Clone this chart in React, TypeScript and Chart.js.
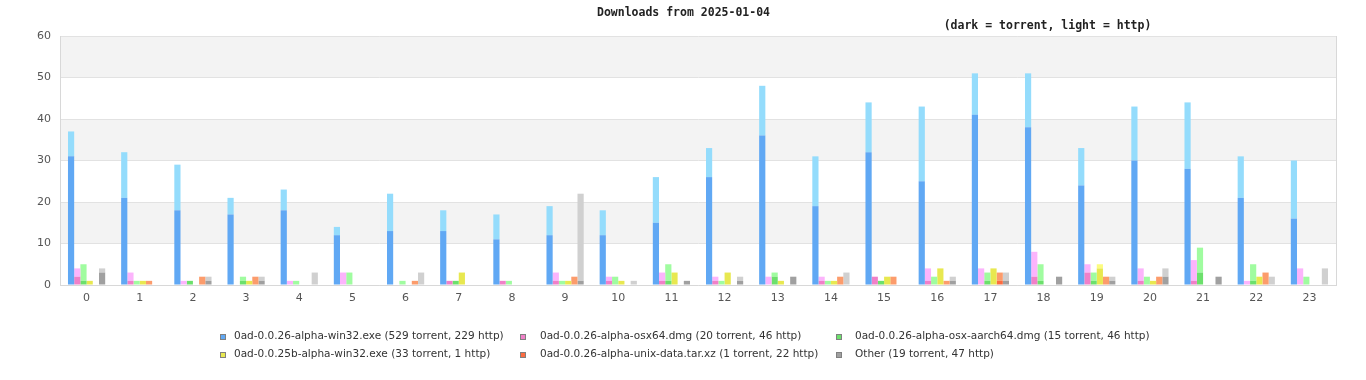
import React, { useEffect, useRef } from "react";
import { Chart, registerables } from "chart.js";

Chart.register(...registerables);

// ---- data ----
const hours = ["0","1","2","3","4","5","6","7","8","9","10","11","12","13","14","15","16","17","18","19","20","21","22","23"];

const fileNames = [
  "0ad-0.0.26-alpha-win32.exe",
  "0ad-0.0.26-alpha-osx64.dmg",
  "0ad-0.0.26-alpha-osx-aarch64.dmg",
  "0ad-0.0.25b-alpha-win32.exe",
  "0ad-0.0.26-alpha-unix-data.tar.xz",
  "Other",
];

const win32Torrent = [31,21,18,17,18,12,13,13,11,12,12,15,26,36,19,32,25,41,38,24,30,28,21,16];
const win32Http    = [6,11,11,4,5,2,9,5,6,7,6,11,7,12,12,12,18,10,13,9,13,16,10,14];
const osx64Torrent = [2,1,0,0,0,0,0,1,1,1,1,1,1,0,1,2,1,0,2,3,1,1,0,0];
const osx64Http    = [2,2,1,0,1,3,0,0,0,2,1,2,1,2,1,0,3,4,6,2,3,5,1,4];
const aarchTorrent = [1,0,1,1,0,0,0,1,0,0,0,1,0,2,0,1,0,1,1,1,0,3,1,0];
const aarchHttp    = [4,1,0,1,1,3,1,0,1,1,2,4,1,1,1,0,2,2,4,2,2,6,4,2];
const w25bTorrent  = [1,1,0,1,0,0,0,3,0,1,1,3,3,1,1,2,4,4,0,4,1,0,2,0];
const w25bHttp     = [0,0,0,0,0,0,0,0,0,0,0,0,0,0,0,0,0,0,0,1,0,0,0,0];
const unixTorrent  = [0,0,0,0,0,0,0,0,0,0,0,0,0,0,0,0,0,1,0,0,0,0,0,0];
const unixHttp     = [0,1,2,2,0,0,1,0,0,2,0,0,0,0,2,2,1,2,0,2,2,0,3,0];
const otherTorrent = [3,0,1,1,0,0,0,0,0,1,0,1,1,2,0,0,1,1,2,1,2,2,0,0];
const otherHttp    = [1,0,1,1,3,0,3,0,0,21,1,0,1,0,3,0,1,2,0,1,2,0,2,4];

const torrentSeries = [win32Torrent, osx64Torrent, aarchTorrent, w25bTorrent, unixTorrent, otherTorrent];
const httpSeries = [win32Http, osx64Http, aarchHttp, w25bHttp, unixHttp, otherHttp];

const yTicks = [0, 10, 20, 30, 40, 50, 60];

// ---- styles ----
const darkColors = ["#60a8f4", "#f080c8", "#6ce06c", "#e8e850", "#fc6c40", "#a0a0a0"];
const lightColors = ["#94dcfc", "#fcb4fc", "#a0fca0", "#fcfc80", "#fc9c6c", "#d0d0d0"];

const sum = (a: number[]) => a.reduce((s, v) => s + v, 0);
const legendLabels = fileNames.map(
  (n, i) => `${n} (${sum(torrentSeries[i])} torrent, ${sum(httpSeries[i])} http)`
);

const decorPlugin = {
  id: "decor",
  beforeDraw(chart: any) {
    const { ctx, chartArea, scales } = chart;
    const y = scales.y;
    ctx.save();
    ctx.fillStyle = "#ffffff";
    ctx.fillRect(0, 0, chart.width, chart.height);
    ctx.fillStyle = "#f3f3f3";
    for (let i = 1; i < yTicks.length - 1; i += 2) {
      const top = y.getPixelForValue(yTicks[i + 1]);
      const bot = y.getPixelForValue(yTicks[i]);
      ctx.fillRect(chartArea.left, top, chartArea.right - chartArea.left, bot - top);
    }
    ctx.restore();
  },
  afterDraw(chart: any) {
    const { ctx, chartArea } = chart;
    ctx.save();
    // right and top borders
    ctx.strokeStyle = "#d8d8d8";
    ctx.lineWidth = 1;
    ctx.beginPath();
    ctx.moveTo(Math.round(chartArea.right) + 0.5, chartArea.top);
    ctx.lineTo(Math.round(chartArea.right) + 0.5, chartArea.bottom);
    ctx.stroke();

    // title
    ctx.fillStyle = "#222";
    ctx.textAlign = "center";
    ctx.textBaseline = "middle";
    ctx.font = 'bold 11.5px "DejaVu Sans Mono"';
    ctx.fillText("Downloads from 2025-01-04", 683.5, 13);
    ctx.fillText("(dark = torrent, light = http)", 1047.5, 26);

    // legend
    const boxX = [220, 520, 836];
    const textX = [234, 540, 855];
    const rowY = [336.5, 354.5];
    ctx.font = '10.5px "DejaVu Sans"';
    ctx.textAlign = "left";
    for (let i = 0; i < legendLabels.length; i++) {
      const c = i % 3;
      const r = Math.floor(i / 3);
      const cy = rowY[r];
      ctx.fillStyle = darkColors[i];
      ctx.fillRect(boxX[c], Math.round(cy - 3), 6, 6);
      ctx.strokeStyle = "#808080";
      ctx.strokeRect(boxX[c] + 0.5, Math.round(cy - 3) + 0.5, 5, 5);
      ctx.fillStyle = "#333";
      ctx.fillText(legendLabels[i], textX[c], cy);
    }
    ctx.restore();
  },
};

export default function App() {
  const ref = useRef<HTMLCanvasElement | null>(null);

  useEffect(() => {
    if (!ref.current) return;
    const datasets: any[] = [];
    fileNames.forEach((name, i) => {
      datasets.push({
        label: name + " torrent",
        data: torrentSeries[i],
        backgroundColor: darkColors[i],
        stack: "s" + i,
        borderWidth: 0,
      });
      datasets.push({
        label: name + " http",
        data: httpSeries[i],
        backgroundColor: lightColors[i],
        stack: "s" + i,
        borderWidth: 0,
      });
    });

    const chart = new Chart(ref.current, {
      type: "bar",
      data: { labels: hours, datasets },
      options: {
        animation: false,
        responsive: false,
        maintainAspectRatio: false,
        devicePixelRatio: 1,
        layout: { padding: { top: 36, left: 0, right: 30, bottom: 75 } },
        datasets: { bar: { categoryPercentage: 0.7, barPercentage: 1.0 } },
        plugins: {
          legend: { display: false },
          title: { display: false },
          tooltip: { enabled: false },
        },
        scales: {
          x: {
            stacked: true,
            grid: { display: false, drawTicks: false },
            border: { display: true, color: "#d8d8d8" },
            ticks: {
              color: "#555",
              font: { family: '"DejaVu Sans"', size: 11 },
              padding: 7,
              maxRotation: 0,
            },
            afterFit: (s: any) => {
              s.height = 20;
            },
          },
          y: {
            stacked: true,
            min: 0,
            max: 60,
            ticks: {
              stepSize: 10,
              color: "#555",
              font: { family: '"DejaVu Sans"', size: 11 },
              padding: 9,
            },
            grid: { color: "#e2e2e2", drawTicks: false },
            border: { display: true, color: "#d8d8d8" },
            afterFit: (s: any) => {
              s.width = 60;
            },
          },
        },
      },
      plugins: [decorPlugin],
    });
    return () => chart.destroy();
  }, []);

  return (
    <div style={{ position: "absolute", left: 0, top: 0, width: 1366, height: 380, background: "#fff" }}>
      <canvas ref={ref} width={1366} height={380} style={{ width: 1366, height: 380, display: "block" }} />
    </div>
  );
}
